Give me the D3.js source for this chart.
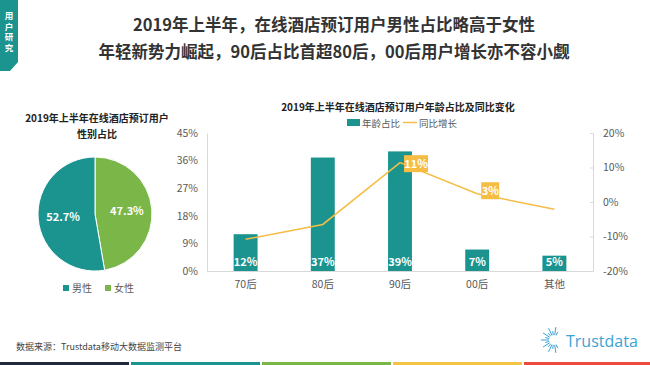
<!DOCTYPE html>
<html><head><meta charset="utf-8">
<script src="https://cdn.jsdelivr.net/npm/d3@7/dist/d3.min.js"></script>
<style>
body{margin:0;background:#fff;}
svg{display:block;font-family:"Noto Sans CJK SC","Noto Sans",sans-serif;}
</style></head>
<body><svg id="c" width="650" height="365"></svg>
<script>
const titleLines = ["2019年上半年，在线酒店预订用户男性占比略高于女性", "年轻新势力崛起，90后占比首超80后，00后用户增长亦不容小觑"];
const tabText = ["用", "户", "研", "究"];
const pieTitle = ["2019年上半年在线酒店预订用户", "性别占比"];
const genders = ["男性", "女性"];
const genderValues = [52.7, 47.3];
const barTitle = "2019年上半年在线酒店预订用户年龄占比及同比变化";
const seriesNames = ["年龄占比", "同比增长"];
const categories = ["70后", "80后", "90后", "00后", "其他"];
const shareValues = [12, 37, 39, 7, 5];
const growthValues = [-10.8, -6.5, 11.4, 2.4, -2.1];
const growthLabels = [null, null, "11%", "3%", null];
const leftTicks = [0, 9, 18, 27, 36, 45];
const rightTicks = [-20, -10, 0, 10, 20];
const source = "数据来源：Trustdata移动大数据监测平台";
const stripeColors = ["#1f2b3a", "#1b9490", "#7ab648", "#f6c244", "#ef4b3c"];

const TEAL = "#1b9490", GREEN = "#7ab648", YELLOW = "#f6bd45", GRAY = "#595959";
const svg = d3.select("#c");

// side tab
svg.append("path").attr("d", "M0,0H18V62L10,71H0Z").attr("fill", TEAL);
svg.selectAll(".tab").data(tabText).join("text")
  .attr("x", 9).attr("y", (d, i) => 19 + i * 10.5).attr("fill", "#fff")
  .attr("font-size", 8.5).attr("font-weight", "bold").attr("text-anchor", "middle").text(d => d);

// titles
svg.selectAll(".tl").data(titleLines).join("text")
  .attr("x", 334).attr("y", (d, i) => 31 + i * 27).attr("text-anchor", "middle")
  .attr("font-size", 16.5).attr("font-weight", "bold").attr("fill", "#333").text(d => d);

// pie
svg.selectAll(".pt").data(pieTitle).join("text")
  .attr("x", 97).attr("y", (d, i) => 122 + i * 16).attr("text-anchor", "middle")
  .attr("font-size", 10).attr("font-weight", "bold").attr("fill", "#222").text(d => d);
// female from top clockwise, male the rest
const pieData = d3.pie().sort(null).value(d => d)([genderValues[1], genderValues[0]]);
const colorsPie = [GREEN, TEAL];
const labelsPie = [genderValues[1], genderValues[0]];
const arc = d3.arc().innerRadius(0).outerRadius(57);
const pg = svg.append("g").attr("transform", "translate(95,214)");
pg.selectAll("path").data(pieData).join("path").attr("d", arc)
  .attr("fill", (d, i) => colorsPie[i]).attr("stroke", "#fff").attr("stroke-width", 1);
const labArc = d3.arc().innerRadius(32).outerRadius(32);
pg.selectAll("text").data(pieData).join("text")
  .attr("transform", d => { const c = labArc.centroid(d); return `translate(${c[0]},${c[1] + 4})`; })
  .attr("text-anchor", "middle").attr("font-size", 11).attr("font-weight", "bold").attr("fill", "#fff")
  .text((d, i) => labelsPie[i].toFixed(1) + "%");
const pl = svg.append("g");
genders.forEach((g, i) => {
  const x = 63 + i * 42;
  pl.append("rect").attr("x", x).attr("y", 285).attr("width", 6).attr("height", 6).attr("fill", i ? GREEN : TEAL);
  pl.append("text").attr("x", x + 9).attr("y", 292).attr("font-size", 10).attr("fill", GRAY).text(g);
});

// bar chart
const x = d3.scaleBand().domain(categories).range([207, 593]).paddingInner(0.69).paddingOuter(0.345);
const yL = d3.scaleLinear().domain([0, 45]).range([271, 133]);
const yR = d3.scaleLinear().domain([-20, 20]).range([271, 133]);

svg.append("text").attr("x", 398).attr("y", 111).attr("text-anchor", "middle")
  .attr("font-size", 10).attr("font-weight", "bold").attr("fill", "#222").text(barTitle);
// legend
svg.append("rect").attr("x", 347).attr("y", 119).attr("width", 13).attr("height", 7).attr("fill", TEAL);
svg.append("text").attr("x", 362).attr("y", 126.5).attr("font-size", 9.5).attr("fill", GRAY).text(seriesNames[0]);
svg.append("line").attr("x1", 403).attr("x2", 417).attr("y1", 122.5).attr("y2", 122.5).attr("stroke", YELLOW).attr("stroke-width", 1.5);
svg.append("text").attr("x", 419).attr("y", 126.5).attr("font-size", 9.5).attr("fill", GRAY).text(seriesNames[1]);

const axL = svg.append("g").attr("transform", "translate(207,0)")
  .call(d3.axisLeft(yL).tickValues(leftTicks).tickFormat(d => d + "%").tickSize(0).tickPadding(9));
const axR = svg.append("g").attr("transform", "translate(593,0)")
  .call(d3.axisRight(yR).tickValues(rightTicks).tickFormat(d => d + "%").tickSizeInner(-3).tickSizeOuter(0).tickPadding(10));
[axL, axR].forEach(a => {
  a.select(".domain").attr("stroke", "#d9d9d9");
  a.selectAll(".tick line").attr("stroke", "#d9d9d9");
  a.selectAll("text").attr("font-size", 10.5).attr("fill", GRAY).attr("font-family", "'Noto Sans CJK SC',sans-serif");
});
const axB = svg.append("g").attr("transform", "translate(0,271)")
  .call(d3.axisBottom(x).tickSize(0).tickPadding(10));
axB.select(".domain").attr("stroke", "#d9d9d9");
axB.selectAll("text").attr("font-size", 10.5).attr("fill", GRAY).attr("font-family", "'Noto Sans CJK SC',sans-serif");

svg.selectAll(".bar").data(shareValues).join("rect")
  .attr("x", (d, i) => x(categories[i])).attr("width", x.bandwidth())
  .attr("y", d => yL(d)).attr("height", d => yL(0) - yL(d)).attr("fill", TEAL);
svg.selectAll(".bl").data(shareValues).join("text")
  .attr("x", (d, i) => x(categories[i]) + x.bandwidth() / 2).attr("y", 266)
  .attr("text-anchor", "middle").attr("font-size", 11).attr("font-weight", "bold").attr("fill", "#fff")
  .text(d => d + "%");

const line = d3.line().x((d, i) => x(categories[i]) + x.bandwidth() / 2).y(d => yR(d));
svg.append("path").datum(growthValues).attr("d", line).attr("fill", "none")
  .attr("stroke", YELLOW).attr("stroke-width", 1.5);
growthValues.forEach((v, i) => {
  if (!growthLabels[i]) return;
  const cx = x(categories[i]) + x.bandwidth() / 2 + (i === 2 ? 16 : 13);
  const cy = yR(v) + (i === 2 ? 1 : -3);
  const w = growthLabels[i].length > 2 ? 24 : 18;
  svg.append("rect").attr("x", cx - w / 2).attr("y", cy - 8.5).attr("width", w).attr("height", 17).attr("fill", YELLOW);
  svg.append("text").attr("x", cx).attr("y", cy + 4).attr("text-anchor", "middle")
    .attr("font-size", 11).attr("font-weight", "bold").attr("fill", "#fff").text(growthLabels[i]);
});

// source
svg.append("text").attr("x", 16).attr("y", 350).attr("font-size", 9).attr("fill", "#444").text(source);

// logo
const lg = svg.append("g").attr("transform", "translate(554,340)");
d3.range(22).forEach(k => {
  const a = k / 22 * 2 * Math.PI;
  if (Math.cos(a) > 0.55) return;
  const r0 = 5, r1 = 9 + (k % 2) * 4;
  lg.append("line").attr("x1", r0 * Math.cos(a)).attr("y1", r0 * Math.sin(a))
    .attr("x2", r1 * Math.cos(a)).attr("y2", r1 * Math.sin(a)).attr("stroke", "#3aa3d6").attr("stroke-width", 1);
});
svg.append("text").attr("x", 566).attr("y", 347).attr("font-size", 16).attr("fill", "#3aa3d6")
  .attr("font-family", "'Open Sans',sans-serif").text("Trustdata");

// bottom stripes
stripeColors.forEach((c, i) => {
  svg.append("rect").attr("x", i * 131).attr("y", 362).attr("width", 129).attr("height", 3).attr("fill", c);
});
</script></body></html>
